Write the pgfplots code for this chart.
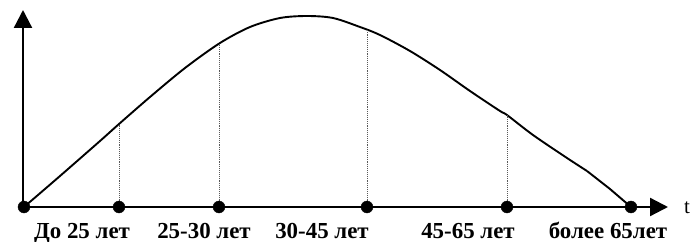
\documentclass[border=0pt]{standalone}
\usepackage{pgfplots}
\pgfplotsset{compat=1.18}
\usepackage{fontspec}
\setmainfont{Liberation Serif}
\usetikzlibrary{arrows.meta}
\begin{document}
\begin{tikzpicture}
\begin{axis}[
  scale only axis, width=690bp, height=242bp,
  xmin=0, xmax=690, ymin=0, ymax=242,
  hide axis, clip=false,
]
% curve (pixel coordinates, y measured upward)
\addplot[black, line width=1.9bp, smooth, tension=0.5] coordinates {
 (24,35) (60,66) (100,101) (119,118) (150,145) (185,174)
 (220,199) (250,215) (280,224) (307,226) (333,224) (360,215) (380,207)
 (410,191) (440,172) (470,151) (500,131) (507,127) (533,107) (567,84)
 (587,71)};
\addplot[black, line width=1.9bp] coordinates {(587,71) (610,53) (631,35)};
% dotted verticals
\addplot[gray!70!black, line width=0.9bp, densely dotted] coordinates {(119,35) (119,118)};
\addplot[gray!70!black, line width=0.9bp, densely dotted] coordinates {(219,35) (219,198)};
\addplot[gray!70!black, line width=0.9bp, densely dotted] coordinates {(367,35) (367,212)};
\addplot[gray!70!black, line width=0.9bp, densely dotted] coordinates {(507,35) (507,127)};
% axes
\addplot[black, line width=2.3bp, -{Triangle[length=18bp,width=18bp]}] coordinates {(23,35) (23,232)};
\addplot[black, line width=2.3bp, -{Triangle[length=18bp,width=18bp]}] coordinates {(23,35) (668,35)};
% dots
\addplot[only marks, mark=*, mark size=6bp, black] coordinates {
 (24,35) (119,35) (219,35) (367,35) (507,35) (631,35)};
% labels
\node[anchor=base, font=\bfseries\fontsize{23}{26}\selectfont, inner sep=0pt] at (axis cs:82,4) {До 25 лет};
\node[anchor=base, font=\bfseries\fontsize{23}{26}\selectfont, inner sep=0pt] at (axis cs:204,4) {25-30 лет};
\node[anchor=base, font=\bfseries\fontsize{23}{26}\selectfont, inner sep=0pt] at (axis cs:322,4) {30-45 лет};
\node[anchor=base, font=\bfseries\fontsize{23}{26}\selectfont, inner sep=0pt] at (axis cs:468,4) {45-65 лет};
\node[anchor=base, font=\bfseries\fontsize{23}{26}\selectfont, inner sep=0pt] at (axis cs:608,4) {более 65лет};
\node[anchor=base west, font=\fontsize{21}{24}\selectfont, inner sep=0pt] at (axis cs:684,29) {t};
\end{axis}
\pgfresetboundingbox
\path (0,0) rectangle (690bp,242bp);
\end{tikzpicture}
\end{document}
